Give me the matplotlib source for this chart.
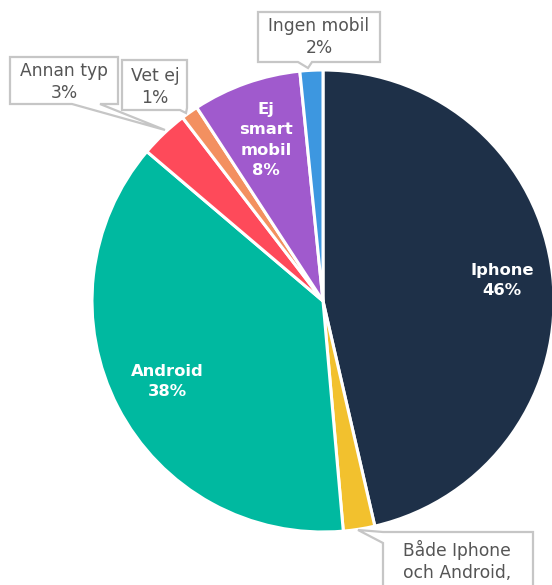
import matplotlib
matplotlib.use("Agg")
import matplotlib.pyplot as plt
import numpy as np
from matplotlib.patches import Polygon

# ---- data ----
categories = ["Iphone", "Både Iphone och Android,", "Android", "Annan typ",
              "Vet ej", "Ej smart mobil", "Ingen mobil"]
values = [46.4, 2.2, 37.6, 3.4, 1.2, 7.6, 1.6]
colors = ["#1e3048", "#f2c12e", "#00b9a0", "#fe4a5a", "#f39060", "#a05acd", "#3d97e0"]

W, H = 552, 585
fig = plt.figure(figsize=(W / 100, H / 100), dpi=100)
ax = fig.add_axes([0, 0, 1, 1])

def Y(y):
    return H - y

cx, cy, R = 323, Y(301), 231
wedges, _ = ax.pie(values, colors=colors, startangle=90, counterclock=False,
                   center=(cx, cy), radius=R,
                   wedgeprops=dict(edgecolor="white", linewidth=2.2))
ax.set_xlim(0, W)
ax.set_ylim(0, H)
ax.set_aspect("auto")
ax.axis("off")

font = "DejaVu Sans"

# inside labels
inside = {0: ("Iphone", 0.78), 2: ("Android", 0.76), 5: ("Ej\nsmart\nmobil", 0.74)}
for i, (name, frac) in inside.items():
    w = wedges[i]
    mid = np.deg2rad((w.theta1 + w.theta2) / 2)
    x = cx + R * frac * np.cos(mid)
    y = cy + R * frac * np.sin(mid)
    ax.text(x, y, f"{name}\n{values[i]:.0f}%", ha="center", va="center",
            color="white", fontsize=11.8, fontweight="bold", family=font,
            linespacing=1.45)

# callouts: (index, text, center xy, outline)
edge = "#c6c6c6"
tcol = "#555555"
callouts = [
    (6, "Ingen mobil", (319, 37),
     [(258, 12), (380, 12), (380, 62), (312, 62), (308, 68), (298, 62), (258, 62)]),
    (3, "Annan typ", (64, 82),
     [(10, 57), (118, 57), (118, 104), (100, 104), (165, 130), (72, 104), (10, 104)]),
    (4, "Vet ej", (155, 87),
     [(122, 60), (187, 60), (187, 108), (186, 113), (180, 110), (122, 110)]),
    (1, "Både Iphone\noch Android,", (457, 572),
     [(383, 532), (533, 532), (533, 620), (383, 620), (383, 543), (358, 530)]),
]
for i, name, (tx, ty), outline in callouts:
    pts = [(x, Y(y)) for x, y in outline]
    ax.add_patch(Polygon(pts, closed=True, facecolor="white", edgecolor=edge,
                         linewidth=1.6, zorder=5))
    ax.text(tx, Y(ty), f"{name}\n{values[i]:.0f}%", ha="center", va="center",
            color=tcol, fontsize=12.3, family=font, linespacing=1.3, zorder=6)

fig.savefig("out.png", dpi=100)
